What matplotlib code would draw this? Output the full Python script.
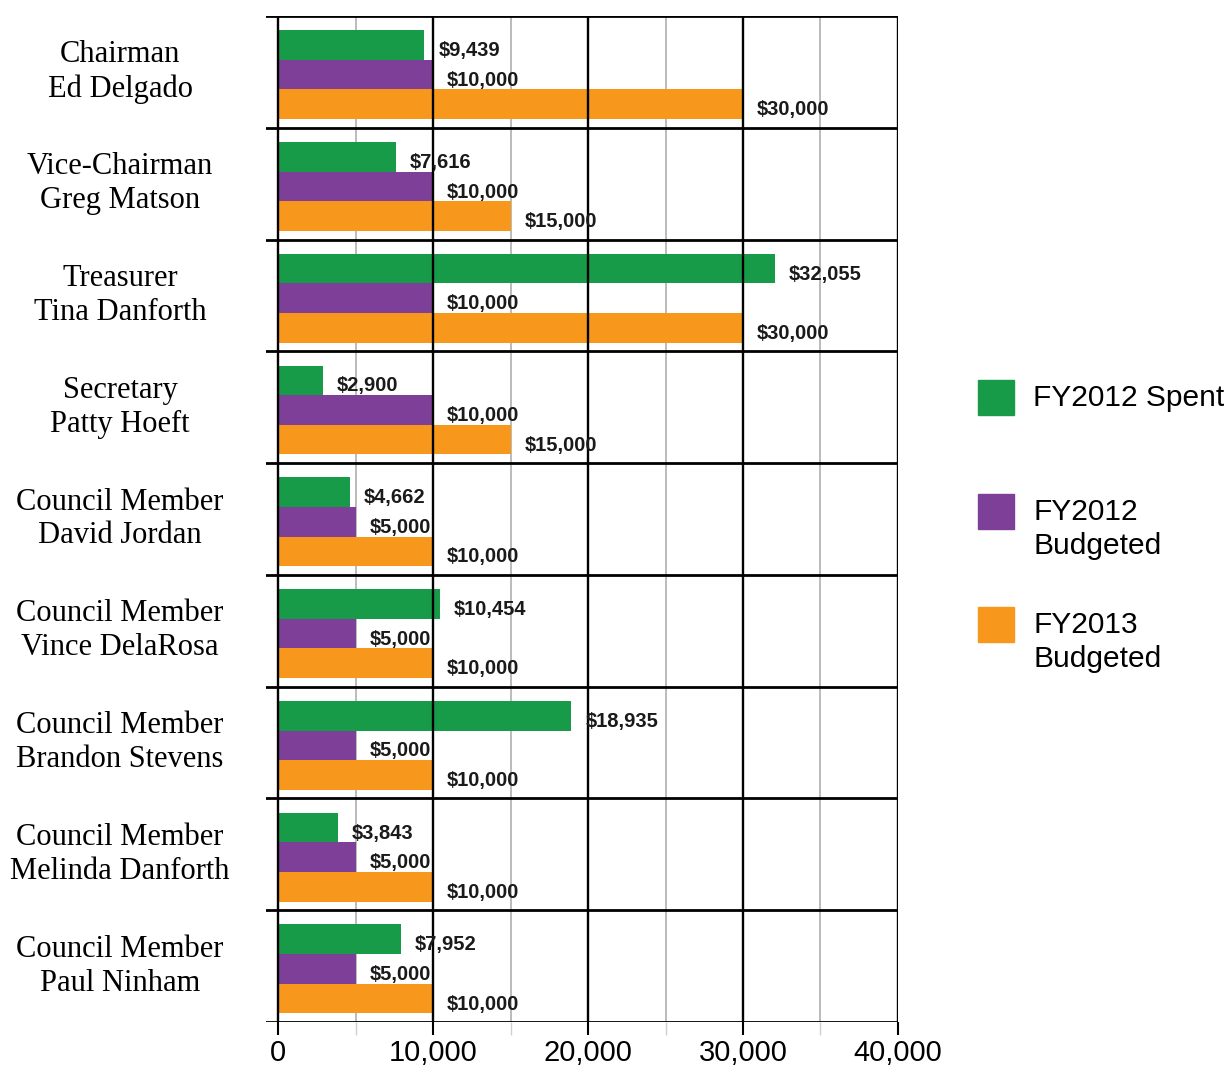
import numpy as np
import matplotlib
matplotlib.use("Agg")
import matplotlib.pyplot as plt
from matplotlib.patches import Rectangle

# group labels, top to bottom
roles = ["Chairman", "Vice-Chairman", "Treasurer", "Secretary", "Council Member",
         "Council Member", "Council Member", "Council Member", "Council Member"]
names = ["Ed Delgado", "Greg Matson", "Tina Danforth", "Patty Hoeft", "David Jordan",
         "Vince DelaRosa", "Brandon Stevens", "Melinda Danforth", "Paul Ninham"]

spent_2012 = [9439, 7616, 32055, 2900, 4662, 10454, 18935, 3843, 7952]
budget_2012 = [10000, 10000, 10000, 10000, 5000, 5000, 5000, 5000, 5000]
budget_2013 = [30000, 15000, 30000, 15000, 10000, 10000, 10000, 10000, 10000]

series_labels = ["FY2012 Spent", "FY2012\nBudgeted", "FY2013\nBudgeted"]
colors = ["#179b48", "#7d3f98", "#f7981d"]

major_ticks = [0, 10000, 20000, 30000, 40000]
minor_ticks = [5000, 15000, 25000, 35000]
tick_labels = ["0", "10,000", "20,000", "30,000", "40,000"]

W, H = 1230, 1071
fig = plt.figure(figsize=(W / 100, H / 100), dpi=100)
ax = fig.add_axes([265.6 / W, 1 - 1022 / H, (898 - 265.6) / W, (1022 - 16) / H])

n = len(names)
idx = np.arange(n)
bar_h = 0.265
series = [spent_2012, budget_2012, budget_2013]
for k, (vals, c) in enumerate(zip(series, colors)):
    y = idx + 0.525 + (k - 1) * bar_h
    ax.barh(y, vals, height=bar_h, color=c, zorder=2)
    for yi, v in zip(y, vals):
        ax.annotate(f"${v:,}", (v, yi), xytext=(10, -4), textcoords="offset points",
                    ha="left", va="center", fontsize=14.5, fontweight="bold",
                    family="Liberation Sans", color="#1a1a1a", zorder=4)

# grid: gray minor, black major, black group separators
for x in minor_ticks:
    ax.axvline(x, color="#b5b5b5", lw=1.3, zorder=1)
for x in major_ticks:
    ax.axvline(x, color="black", lw=1.7, zorder=3)
for y in range(n + 1):
    ax.axhline(y, color="black", lw=2.0, zorder=3)

ax.set_xlim(-800, 40000)
ax.set_ylim(n, 0)
for s in ax.spines.values():
    s.set_visible(False)
ax.set_yticks([])
ax.set_xticks(major_ticks)
ax.set_xticklabels(tick_labels, fontsize=21, family="Liberation Sans")
ax.set_xticks(minor_ticks, minor=True)
ax.tick_params(axis="x", which="major", length=9, width=1.5, color="black", pad=3)
ax.tick_params(axis="x", which="minor", length=9, width=1.0, color="#d0d0d0")

# group labels on the left
x_lab = (120 - 265.6) / (898 - 265.6)
for i, (r, nm) in enumerate(zip(roles, names)):
    ax.text(x_lab, 1 - (i + 0.5) / n, f"{r}\n{nm}", transform=ax.transAxes,
            ha="center", va="center", fontsize=22, family="Liberation Serif",
            linespacing=1.22)

# legend drawn by hand to keep first text line level with each square
sq_tops = [380, 494, 607]
for top, c, lab in zip(sq_tops, colors, series_labels):
    fig.add_artist(Rectangle((978 / W, 1 - (top + 35) / H), 36 / W, 35 / H,
                             transform=fig.transFigure, color=c))
    lines = lab.split("\n")
    for j, line in enumerate(lines):
        fig.text(1033 / W, 1 - (top + 18 + 34 * j) / H, line, ha="left", va="center",
                 fontsize=21.5, family="Liberation Sans")

fig.savefig("out.png", dpi=100)
